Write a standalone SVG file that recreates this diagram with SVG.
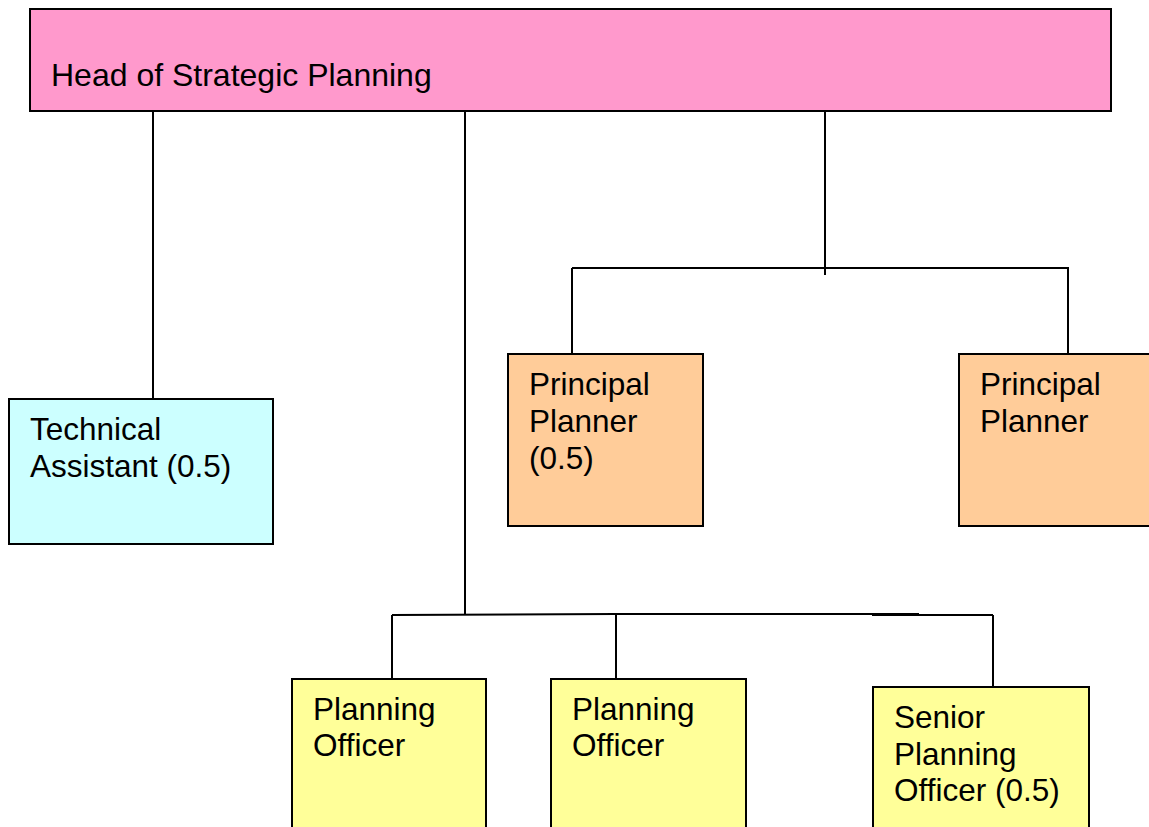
<svg xmlns="http://www.w3.org/2000/svg" width="1149" height="827" viewBox="0 0 1149 827">
<style>
.box{stroke:#000;stroke-width:2}
.t{font-family:"Liberation Sans",Arial,sans-serif;font-size:31.5px;fill:#000}
.c{stroke:#000;stroke-width:2;fill:none}
</style>
<rect width="1149" height="827" fill="#fff"/>
<g id="connectors">
<path class="c" d="M153,111V399"/>
<path class="c" d="M465,111V615"/>
<path class="c" d="M392,615L616,614L872,614M968,615H993"/>
<path class="c" style="stroke-width:3" d="M872,614.5H919"/>
<path class="c" d="M919,615H968"/>
<path class="c" d="M392,615V679"/>
<path class="c" d="M616,613V679"/>
<path class="c" d="M993,615V687"/>
<path class="c" d="M825,111V275"/>
<path class="c" d="M572,268H1069"/>
<path class="c" d="M572,268V354"/>
<path class="c" d="M1068,268V354"/>
</g>
<g id="head">
<rect class="box" x="30" y="9" width="1081" height="102" fill="#FF99CC"/>
<text class="t" x="51" y="86" style="font-size:32px">Head of Strategic Planning</text>
</g>
<g id="tech">
<rect class="box" x="9" y="399" width="264" height="145" fill="#CCFFFF"/>
<text class="t" x="30" y="440">Technical</text>
<text class="t" x="30" y="477">Assistant (0.5)</text>
</g>
<g id="pp1">
<rect class="box" x="508" y="354" width="195" height="172" fill="#FFCC99"/>
<text class="t" x="529" y="395">Principal</text>
<text class="t" x="529" y="432">Planner</text>
<text class="t" x="529" y="469">(0.5)</text>
</g>
<g id="pp2">
<rect class="box" x="959" y="354" width="200" height="172" fill="#FFCC99"/>
<text class="t" x="980" y="395">Principal</text>
<text class="t" x="980" y="432">Planner</text>
</g>
<g id="po1">
<rect class="box" x="292" y="679" width="194" height="160" fill="#FFFF99"/>
<text class="t" x="313" y="720">Planning</text>
<text class="t" x="313" y="756">Officer</text>
</g>
<g id="po2">
<rect class="box" x="551" y="679" width="195" height="160" fill="#FFFF99"/>
<text class="t" x="572" y="720">Planning</text>
<text class="t" x="572" y="756">Officer</text>
</g>
<g id="spo">
<rect class="box" x="873" y="687" width="216" height="160" fill="#FFFF99"/>
<text class="t" x="894" y="728">Senior</text>
<text class="t" x="894" y="765">Planning</text>
<text class="t" x="894" y="801">Officer (0.5)</text>
</g>
</svg>
